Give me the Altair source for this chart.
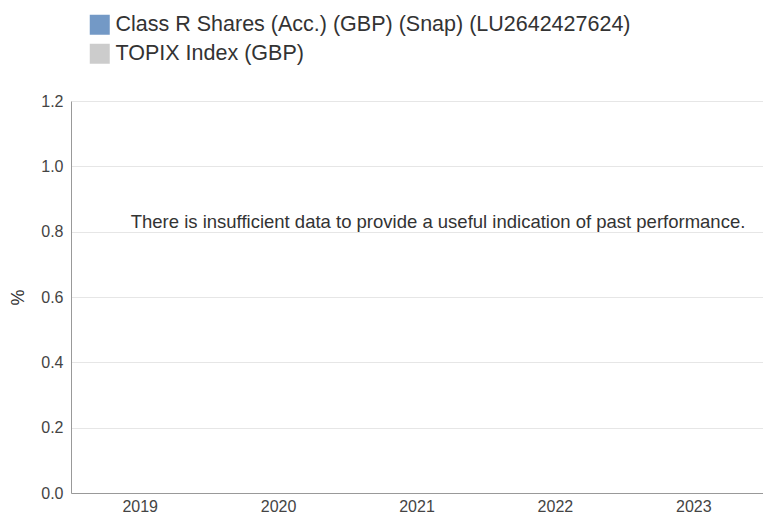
import altair as alt
import pandas as pd

years = ["2019", "2020", "2021", "2022", "2023"]
series = ["Class R Shares (Acc.) (GBP) (Snap) (LU2642427624)", "TOPIX Index (GBP)"]
colors = ["#7399c6", "#cccccc"]
# No performance values are shown in the reference (insufficient data)
values = {
    series[0]: [None, None, None, None, None],
    series[1]: [None, None, None, None, None],
}
y_ticks = [0.0, 0.2, 0.4, 0.6, 0.8, 1.0, 1.2]
message = ["There is insufficient data to provide a useful indication of past performance."]

rows = []
for s in series:
    for yr, v in zip(years, values[s]):
        rows.append({"year": yr, "series": s, "value": v})
df = pd.DataFrame(rows)

FONT = "Liberation Sans"
TOP = 93
H = 392
W = 692

bars = alt.Chart(df).mark_bar().encode(
    x=alt.X("year:N", scale=alt.Scale(domain=years, paddingInner=0.2, paddingOuter=0.1),
            axis=alt.Axis(title=None, labelAngle=0, ticks=False, grid=False,
                          domainColor="#999999", labelPadding=5)),
    xOffset=alt.XOffset("series:N", scale=alt.Scale(domain=series)),
    y=alt.Y("value:Q", scale=alt.Scale(domain=[0, 1.2], nice=False),
            axis=alt.Axis(title="%", values=y_ticks, format=".1f", ticks=False,
                          grid=True, gridColor="#e6e6e6", domainColor="#999999",
                          labelPadding=8, titleAngle=270, titleX=-53, titleY=H / 2,
                          titleAlign="center", titleBaseline="middle",
                          titleFontSize=18, titleFontWeight="normal", titleColor="#333333")),
    color=alt.Color("series:N", scale=alt.Scale(domain=series, range=colors),
                    legend=alt.Legend(title=None, orient="none", legendX=18, legendY=6 - TOP,
                                      symbolType="square", symbolSize=400,
                                      symbolStrokeWidth=0, labelFontSize=21.5,
                                      labelColor="#333333", rowPadding=6, labelOffset=5,
                                      labelFont=FONT, labelLimit=700)),
)

msg = alt.Chart(pd.DataFrame({"msg": message})).mark_text(
    fontSize=18.5, color="#333333", font=FONT, align="center", baseline="middle"
).encode(
    text="msg:N",
    x=alt.value(367),
    y=alt.value(222 - 8 - TOP),
)

chart = alt.layer(bars, msg).properties(
    width=W, height=H,
    padding={"left": 63, "top": TOP, "right": 0, "bottom": 22},
    autosize=alt.AutoSizeParams(type="none"),
).configure_axis(
    labelFont=FONT, labelFontSize=16, labelColor="#444444", titleFont=FONT,
).configure_view(stroke=None)

chart.save("out.html", embed_options={"renderer": "svg", "actions": False})
